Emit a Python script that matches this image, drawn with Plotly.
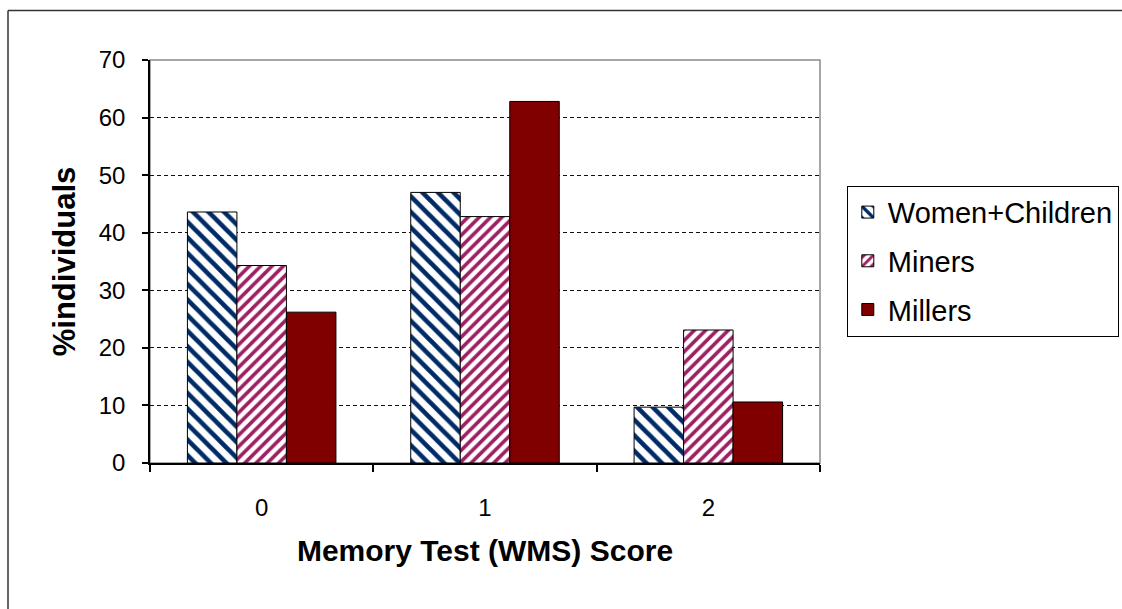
import plotly.graph_objects as go

# Memory test (WMS) score distribution by group
scores = ["0", "1", "2"]
women_children = [43.6, 47.0, 9.7]
miners = [34.3, 42.8, 23.1]
millers = [26.2, 62.8, 10.6]

y_ticks = [0, 10, 20, 30, 40, 50, 60, 70]

FONT = "Liberation Sans, Arial, sans-serif"

fig = go.Figure()

fig.add_trace(go.Bar(
    name="Women+Children", x=scores, y=women_children, legendgroup="a",
    marker=dict(color="white", line=dict(color="black", width=1),
                pattern=dict(shape="\\", fgcolor="#002b66", bgcolor="white",
                             fgopacity=1, size=11, solidity=0.42)),
))
fig.add_trace(go.Bar(
    name="Miners", x=scores, y=miners, legendgroup="b",
    marker=dict(color="white", line=dict(color="black", width=1),
                pattern=dict(shape="/", fgcolor="#9e2063", bgcolor="white",
                             fgopacity=1, size=8, solidity=0.45)),
))
fig.add_trace(go.Bar(
    name="Millers", x=scores, y=millers, legendgroup="c",
    marker=dict(color="#800000", line=dict(color="black", width=1)),
))

fig.update_layout(
    width=1122, height=609,
    margin=dict(l=150, r=302, t=60, b=146, autoexpand=False),
    paper_bgcolor="white", plot_bgcolor="white",
    barmode="group", bargap=0.335, bargroupgap=0,
    font=dict(family=FONT, color="black"),
    legend=dict(
        x=1.040, y=0.688, xanchor="left", yanchor="top",
        bordercolor="black", borderwidth=1, bgcolor="white",
        font=dict(size=29, family=FONT), tracegroupgap=8,
    ),
    showlegend=True,
)

fig.update_xaxes(
    type="category", tickson="boundaries",
    showline=True, linecolor="black", linewidth=1.5,
    ticks="outside", ticklen=7, tickcolor="black", tickwidth=1.5,
    tickfont=dict(size=24), ticklabelstandoff=22,
    showgrid=False,
    title=dict(text="<b>Memory Test (WMS) Score</b>", font=dict(size=30), standoff=20),
)

fig.update_yaxes(
    range=[0, 70], tickvals=y_ticks, ticktext=[str(v) for v in y_ticks],
    showline=True, linecolor="black", linewidth=1.5,
    ticks="outside", ticklen=6, tickcolor="black", tickwidth=1.5,
    tickfont=dict(size=24), ticklabelstandoff=12,
    showgrid=True, gridcolor="#111111", gridwidth=1.4, griddash="4px,3px",
    zeroline=False,
    title=dict(text="<b>%individuals</b>", font=dict(size=31), standoff=14),
)

# Plot-area frame (grey)
fig.add_shape(type="rect", xref="paper", yref="paper", x0=0, x1=1, y0=0, y1=1,
              line=dict(color="#8a8a8a", width=1.5), layer="between")

# Outer chart border: left and top edges only
bx0 = (8 - 150) / 670
by1 = (463 - 11) / 402.5
fig.add_shape(type="line", xref="paper", yref="paper",
              x0=bx0, x1=bx0, y0=(463 - 620) / 402.5, y1=by1,
              line=dict(color="#333333", width=1.5), layer="above")
fig.add_shape(type="line", xref="paper", yref="paper",
              x0=bx0, x1=(1140 - 150) / 670, y0=by1, y1=by1,
              line=dict(color="#333333", width=1.5), layer="above")

fig.write_html("out.html")
